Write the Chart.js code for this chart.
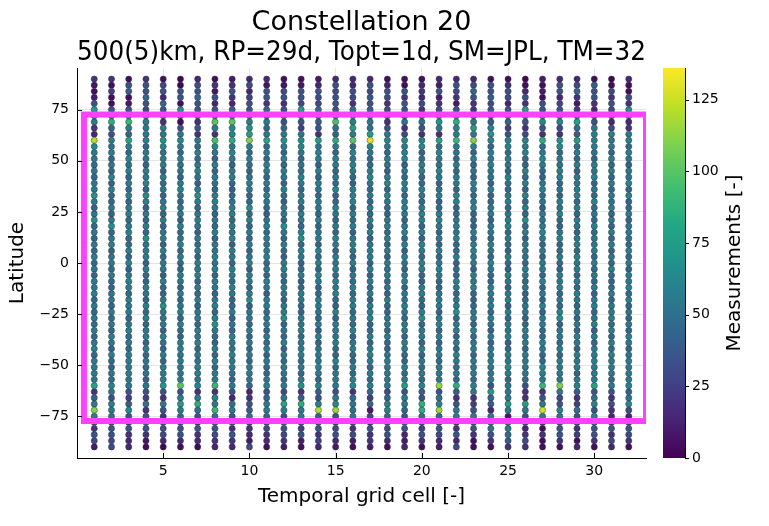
<!DOCTYPE html>
<html>
<head>
<meta charset="utf-8">
<script src="https://cdn.jsdelivr.net/npm/chart.js@4/dist/chart.umd.min.js"></script>
<style>
  html, body { margin: 0; padding: 0; background: #fff; }
  canvas { display: block; }
</style>
</head>
<body>
<canvas id="c" width="769" height="526"></canvas>
<script>
// Temporal grid cells (x) and latitude bands (y, degrees)
const cells = [1,2,3,4,5,6,7,8,9,10,11,12,13,14,15,16,17,18,19,20,21,22,23,24,25,26,27,28,29,30,31,32];
const latitudes = [90,87,84,81,78,75,72,69,66,63,60,57,54,51,48,45,42,39,36,33,30,27,24,21,18,15,12,9,6,3,0,
  -3,-6,-9,-12,-15,-18,-21,-24,-27,-30,-33,-36,-39,-42,-45,-48,-51,-54,-57,-60,-63,-66,-69,-72,-75,-78,-81,-84,-87,-90];

// Measurement counts per latitude band, one value per temporal grid cell
const lat_p90 = [20,20,5,20,5,2,15,5,10,15,15,5,5,10,15,15,15,5,5,5,15,15,15,5,5,2,10,15,15,5,2,15];
const lat_p87 = [8,5,35,35,30,2,32,20,20,30,8,8,10,15,35,15,35,15,5,15,10,35,30,35,20,5,5,35,30,40,5,5];
const lat_p84 = [5,25,40,35,35,35,35,8,35,15,33,30,35,35,30,35,30,35,35,20,33,30,45,35,35,15,10,35,45,35,30,5];
const lat_p81 = [10,5,5,45,15,35,45,35,20,25,35,35,35,30,35,30,35,30,20,15,10,20,35,40,30,35,5,15,20,35,20,30];
const lat_p78 = [35,5,10,35,45,5,35,15,15,35,20,20,30,30,35,20,35,20,35,30,20,10,20,30,15,20,35,30,10,20,35,20];
const lat_p75 = [75,35,35,30,35,70,35,35,40,35,45,35,75,45,35,50,40,30,35,20,30,35,20,35,35,75,35,35,20,15,30,65];
const lat_p72 = [60,45,55,70,40,35,55,60,50,45,40,55,65,45,50,60,55,40,35,45,55,60,50,40,45,55,50,60,45,40,35,50];
const lat_p69 = [55,85,90,55,20,5,20,100,100,60,55,35,35,40,95,60,55,20,50,50,70,85,55,40,45,35,65,60,80,35,15,15];
const lat_p66 = [20,45,55,55,60,35,35,55,65,70,45,45,25,35,50,75,50,35,20,35,55,60,75,60,25,20,35,30,50,55,30,20];
const lat_p63 = [15,35,45,55,55,55,20,20,60,75,55,55,55,20,45,55,75,55,30,20,20,55,55,70,35,30,20,20,40,60,60,55];
const lat_p60 = [120,60,80,60,70,65,55,95,85,110,80,70,65,75,85,100,130,60,65,60,80,90,110,60,60,60,85,70,75,60,55,60];
const lat_p57 = [65,52,58,45,61,55,47,63,54,58,45,57,62,51,55,46,60,53,57,64,48,56,59,45,61,54,47,66,49,57,55,47];
const lat_p54 = [55,60,46,56,52,45,58,54,62,48,57,47,53,59,45,61,55,47,58,43,63,52,45,57,48,60,54,46,59,53,44,58];
const lat_p51 = [55,45,62,53,57,60,47,44,55,58,47,61,45,56,59,53,46,57,62,48,55,45,60,54,57,47,63,55,45,43,58,54];
const lat_p48 = [48,57,53,45,60,52,56,58,44,53,61,47,55,45,57,62,47,54,43,59,52,57,46,61,55,45,56,53,60,58,47,44];
const lat_p45 = [55,47,59,56,43,54,61,46,57,45,55,58,48,60,45,55,57,44,53,58,61,46,54,56,45,62,47,57,43,54,59,55];
const lat_p42 = [45,62,45,55,58,44,52,56,60,54,46,53,59,43,56,47,62,55,47,45,56,59,45,53,60,48,44,58,55,61,46,53];
const lat_p39 = [55,45,56,61,47,57,43,53,48,59,56,45,55,58,47,44,54,60,57,46,45,55,61,44,53,58,56,47,54,45,57,62];
const lat_p36 = [55,58,47,44,55,60,57,45,43,56,48,59,46,54,61,57,47,45,55,60,53,45,56,59,47,44,60,53,57,55,47,45];
const lat_p33 = [68,48,60,66,45,52,67,57,47,45,59,47,56,46,44,58,55,62,45,54,57,61,47,45,56,60,48,44,59,47,55,60];
const lat_p30 = [55,47,45,58,54,46,57,60,53,47,56,43,59,55,47,61,45,54,57,46,44,58,55,47,60,45,54,57,47,62,53,45];
const lat_p27 = [45,57,55,43,60,53,47,55,58,68,47,57,45,54,60,44,56,48,59,55,46,45,61,56,47,58,43,52,57,48,60,46];
const lat_p24 = [55,44,59,56,47,57,54,45,60,48,43,55,58,46,54,59,47,44,55,61,57,47,45,59,54,46,57,61,44,55,47,58];
const lat_p21 = [68,56,47,45,57,43,60,55,46,58,54,45,55,60,44,48,58,55,45,57,62,54,47,43,57,68,53,46,58,47,56,45];
const lat_p18 = [46,68,55,57,44,59,53,47,56,45,60,68,47,45,56,60,46,57,54,45,55,58,44,56,61,47,55,45,53,60,44,55];
const lat_p15 = [55,46,60,45,55,47,43,58,53,56,47,55,59,54,45,43,57,48,60,56,45,53,58,55,46,57,62,54,44,47,58,56];
const lat_p12 = [44,55,47,68,58,54,57,45,60,47,57,45,68,56,61,55,44,59,47,43,56,60,48,46,57,43,55,60,56,54,45,53];
const lat_p09 = [56,59,48,52,45,60,47,55,43,57,53,58,46,44,55,58,54,45,57,61,47,45,56,59,47,57,46,44,60,55,57,47];
const lat_p06 = [47,44,57,55,60,46,56,53,58,45,55,47,57,60,44,54,59,56,43,55,58,47,60,52,44,55,58,48,46,57,45,60];
const lat_p03 = [58,54,45,57,47,56,44,60,54,55,60,43,55,47,58,45,55,44,59,47,46,57,54,45,58,53,45,56,60,44,55,47];
const lat_000 = [46,56,60,43,55,47,58,54,45,60,47,56,44,57,54,59,45,56,53,58,55,43,57,60,47,45,56,47,55,58,46,57];
const lat_m03 = [55,47,44,58,56,45,55,58,57,43,55,60,47,46,57,44,58,53,45,56,60,48,45,55,43,59,55,45,57,47,60,44];
const lat_m06 = [45,58,55,47,43,57,60,46,55,58,44,53,57,61,47,55,43,59,55,46,56,45,58,47,60,55,46,57,44,56,48,58];
const lat_m09 = [57,47,60,44,59,54,45,57,47,55,58,46,43,55,59,48,57,45,60,43,47,58,55,45,56,47,60,54,57,45,44,55];
const lat_m12 = [54,44,56,59,47,43,57,55,60,46,54,57,47,45,56,60,48,55,44,57,46,55,61,57,45,55,44,59,47,57,47,60];
const lat_m15 = [60,56,47,54,45,58,48,44,55,57,43,55,59,47,60,46,56,44,55,59,54,45,47,58,55,43,57,47,60,45,56,47];
const lat_m18 = [47,55,58,44,56,47,60,55,45,68,56,45,55,58,47,56,44,60,53,47,57,54,44,55,59,47,45,56,54,57,45,58];
const lat_m21 = [56,45,54,57,68,55,45,58,47,43,59,55,46,56,44,57,55,47,60,45,55,58,47,57,43,56,60,47,45,58,55,44];
const lat_m24 = [44,58,57,47,55,60,54,46,57,55,47,58,43,55,61,47,57,45,55,58,44,68,56,47,57,54,44,60,55,46,57,54];
const lat_m27 = [56,47,45,59,54,46,57,60,44,56,55,68,57,47,44,56,60,54,47,68,56,46,57,60,47,45,56,68,47,55,58,45];
const lat_m30 = [47,57,55,44,56,58,47,68,55,47,57,45,54,59,55,47,44,57,55,47,60,55,45,54,58,47,57,43,56,60,47,55];
const lat_m33 = [57,46,60,55,45,47,58,55,47,60,45,55,58,43,56,60,47,46,57,55,47,57,60,44,55,58,47,56,46,44,57,47];
const lat_m36 = [45,58,47,57,60,44,55,47,58,45,56,47,47,60,54,44,57,59,45,56,58,44,47,57,60,54,45,55,58,56,46,59];
const lat_m39 = [55,54,57,45,55,57,60,44,55,57,47,59,55,45,57,55,46,47,58,47,45,56,55,47,44,57,60,47,55,45,58,55];
const lat_m42 = [58,44,47,58,47,59,46,57,53,47,60,44,56,53,46,58,56,44,55,60,56,47,59,56,47,45,55,58,44,57,47,46];
const lat_m45 = [47,60,56,46,58,54,55,45,60,56,43,55,59,57,44,47,59,55,47,44,57,60,46,55,58,56,47,45,57,55,60,54];
const lat_m48 = [56,47,57,55,45,57,53,58,55,45,57,47,47,55,60,46,54,57,45,55,47,56,57,58,56,55,46,57,55,58,56,57];
const lat_m51 = [55,43,55,48,57,55,58,45,55,56,47,57,55,60,47,56,45,55,58,48,57,48,55,56,65,55,65,55,57,55,56,55];
const lat_m54 = [56,55,58,54,57,55,59,56,54,57,45,56,47,57,55,47,58,54,46,56,55,56,57,55,56,54,60,56,45,57,55,58];
const lat_m57 = [55,48,55,43,60,55,52,56,45,55,56,47,57,45,55,58,47,55,56,46,55,45,48,56,46,48,55,55,55,56,46,56];
const lat_m60 = [80,60,55,55,70,100,60,90,55,45,60,55,70,60,55,65,60,55,75,60,115,85,60,35,55,35,90,110,60,80,55,60];
const lat_m63 = [20,55,35,35,35,35,20,20,35,15,35,30,20,40,35,20,45,30,35,40,35,40,55,75,55,20,20,55,40,35,35,40];
const lat_m66 = [40,35,25,25,20,55,55,60,15,20,45,55,40,35,55,50,25,45,55,35,50,20,20,45,55,20,35,30,20,50,20,50];
const lat_m69 = [55,60,40,50,55,75,85,55,50,35,55,80,85,60,65,55,45,60,55,85,60,35,25,40,75,75,55,35,25,60,35,65];
const lat_m72 = [110,55,65,20,35,55,50,90,55,40,55,60,55,120,115,50,10,60,45,85,115,55,35,15,55,55,125,60,50,35,20,30];
const lat_m75 = [55,50,35,35,20,45,35,50,35,50,45,35,55,40,35,55,30,45,35,50,45,55,55,55,10,35,55,50,35,60,15,15];
const lat_m78 = [30,35,25,40,30,35,20,35,30,25,35,40,30,35,25,30,20,35,40,30,35,25,30,45,50,30,20,35,30,40,25,30];
const lat_m81 = [20,35,35,35,35,35,35,35,20,20,30,35,25,35,30,20,35,30,35,25,35,20,35,50,55,15,5,35,20,35,35,35];
const lat_m84 = [35,35,20,20,30,35,20,30,35,15,20,30,35,20,35,30,20,35,15,35,30,35,20,35,50,20,20,35,25,35,20,30];
const lat_m87 = [30,30,15,8,15,15,15,20,20,10,15,20,10,25,15,10,20,15,10,20,15,15,5,20,40,30,5,20,5,20,30,20];
const lat_m90 = [10,30,15,5,2,5,3,15,15,30,5,10,5,15,10,5,10,5,15,5,10,30,5,5,20,20,5,5,15,5,15,5];

const rows = [lat_p90,lat_p87,lat_p84,lat_p81,lat_p78,lat_p75,lat_p72,lat_p69,lat_p66,lat_p63,lat_p60,lat_p57,
  lat_p54,lat_p51,lat_p48,lat_p45,lat_p42,lat_p39,lat_p36,lat_p33,lat_p30,lat_p27,lat_p24,lat_p21,lat_p18,lat_p15,
  lat_p12,lat_p09,lat_p06,lat_p03,lat_000,lat_m03,lat_m06,lat_m09,lat_m12,lat_m15,lat_m18,lat_m21,lat_m24,lat_m27,
  lat_m30,lat_m33,lat_m36,lat_m39,lat_m42,lat_m45,lat_m48,lat_m51,lat_m54,lat_m57,lat_m60,lat_m63,lat_m66,lat_m69,
  lat_m72,lat_m75,lat_m78,lat_m81,lat_m84,lat_m87,lat_m90];

// Highlighted region outline (closed polygon, last edge repeated for a clean corner)
const regionX = [0.4, 33, 33, 0.4, 0.4, 33];
const regionY = [72.7, 72.7, -77.3, -77.3, 72.7, 72.7];

// Axis ticks
const xTicks = [5, 10, 15, 20, 25, 30];
const yTicks = [-75, -50, -25, 0, 25, 50, 75];
const cbTicks = [0, 25, 50, 75, 100, 125];
const cbMax = 136;

const titleLines = ['Constellation 20', '500(5)km, RP=29d, Topt=1d, SM=JPL, TM=32'];

// viridis colour map
const VIRIDIS = ['#440154','#482475','#414487','#355f8d','#2a788e','#21918c','#22a884','#44bf70','#7ad151','#bddf26','#fde725'];
function hexRgb(h) { return [parseInt(h.slice(1,3),16), parseInt(h.slice(3,5),16), parseInt(h.slice(5,7),16)]; }
const VRGB = VIRIDIS.map(hexRgb);
function viridis(t) {
  t = Math.max(0, Math.min(1, t));
  const p = t * (VRGB.length - 1);
  const i = Math.min(Math.floor(p), VRGB.length - 2);
  const f = p - i;
  const a = VRGB[i], b = VRGB[i + 1];
  return 'rgb(' + [0,1,2].map(k => Math.round(a[k] + (b[k] - a[k]) * f)).join(',') + ')';
}

const FONT = 'DejaVu Sans';

const points = [];
const pointColors = [];
rows.forEach((row, i) => {
  row.forEach((v, j) => {
    points.push({ x: cells[j], y: latitudes[i], v: v });
    pointColors.push(viridis(v / cbMax));
  });
});

const regionData = regionX.map((x, i) => ({ x: x, y: regionY[i] }));

// colour bar, inward tick marks and colour bar label
const decorations = {
  id: 'decorations',
  afterDraw(chart) {
    const ctx = chart.ctx;
    const area = chart.chartArea;
    const sx = chart.scales.x, sy = chart.scales.y, cb = chart.scales.cb;
    ctx.save();
    // inward ticks
    ctx.strokeStyle = '#000';
    ctx.lineWidth = 1;
    ctx.beginPath();
    xTicks.forEach(v => {
      const px = Math.round(sx.getPixelForValue(v)) + 0.5;
      ctx.moveTo(px, area.bottom); ctx.lineTo(px, area.bottom - 5);
    });
    yTicks.forEach(v => {
      const py = Math.round(sy.getPixelForValue(v)) + 0.5;
      ctx.moveTo(area.left, py); ctx.lineTo(area.left + 5, py);
    });
    ctx.stroke();

    // colour bar
    const x0 = area.right + 17, w = 22;
    const top = cb.getPixelForValue(cbMax), bot = cb.getPixelForValue(0);
    const g = ctx.createLinearGradient(0, bot, 0, top);
    VIRIDIS.forEach((c, i) => g.addColorStop(i / (VIRIDIS.length - 1), c));
    ctx.fillStyle = g;
    ctx.fillRect(x0, top, w, bot - top);
    ctx.beginPath();
    ctx.moveTo(x0 + w + 0.5, top); ctx.lineTo(x0 + w + 0.5, bot);
    cbTicks.forEach(v => {
      const py = Math.round(cb.getPixelForValue(v)) + 0.5;
      ctx.moveTo(x0 + w, py); ctx.lineTo(x0 + w + 4, py);
    });
    ctx.stroke();

    // colour bar label
    ctx.translate(735, (top + bot) / 2);
    ctx.rotate(-Math.PI / 2);
    ctx.fillStyle = '#000';
    ctx.font = '20px "' + FONT + '"';
    ctx.textAlign = 'center';
    ctx.textBaseline = 'middle';
    ctx.fillText('Measurements [-]', 0, 0);
    ctx.restore();
  }
};

const minus = v => String(v).replace('-', '\u2212');

new Chart(document.getElementById('c'), {
  type: 'scatter',
  data: {
    datasets: [
      {
        label: 'region',
        data: regionData,
        showLine: true,
        borderColor: '#ff40ff',
        borderWidth: 6,
        borderJoinStyle: 'miter',
        pointRadius: 0,
        fill: false,
        order: 0
      },
      {
        label: 'measurements',
        data: points,
        backgroundColor: pointColors,
        borderColor: 'rgba(45,45,45,0.75)',
        borderWidth: 0.6,
        pointRadius: 3.1,
        order: 1
      }
    ]
  },
  options: {
    responsive: false,
    animation: false,
    events: [],
    layout: { padding: 0 },
    plugins: {
      legend: { display: false },
      tooltip: { enabled: false },
      title: {
        display: true,
        text: titleLines,
        fullSize: false,
        color: '#000',
        font: { family: FONT, size: 27, weight: 'normal', lineHeight: 1.1 },
        padding: { top: 8, bottom: 0.6 }
      }
    },
    scales: {
      x: {
        type: 'linear',
        min: 0, max: 33,
        afterBuildTicks: s => { s.ticks = xTicks.map(v => ({ value: v })); },
        afterFit: s => { s.height = 68; },
        grid: { color: 'rgba(0,0,0,0.1)', drawTicks: false },
        border: { display: true, color: '#000', width: 1 },
        ticks: { color: '#000', font: { family: FONT, size: 14 }, padding: 5, maxRotation: 0 },
        title: { display: true, text: 'Temporal grid cell [-]', color: '#000',
                 font: { family: FONT, size: 20 }, padding: { top: 0, bottom: 17 } }
      },
      y: {
        type: 'linear',
        min: -95.4, max: 95.4,
        afterBuildTicks: s => { s.ticks = yTicks.map(v => ({ value: v })); },
        afterFit: s => { s.width = 77; },
        grid: { color: 'rgba(0,0,0,0.1)', drawTicks: false },
        border: { display: true, color: '#000', width: 1 },
        ticks: { color: '#000', font: { family: FONT, size: 14 }, padding: 8, callback: minus },
        title: { display: true, text: 'Latitude', color: '#000',
                 font: { family: FONT, size: 20 }, padding: { top: 6, bottom: 0 } }
      },
      cb: {
        type: 'linear',
        axis: 'y',
        position: 'right',
        min: 0, max: cbMax,
        afterBuildTicks: s => { s.ticks = cbTicks.map(v => ({ value: v })); },
        afterFit: s => { s.width = 123; },
        grid: { display: false, drawTicks: false },
        border: { display: false },
        ticks: { color: '#000', font: { family: FONT, size: 14 }, padding: 46 }
      }
    }
  },
  plugins: [decorations]
});
</script>
</body>
</html>
